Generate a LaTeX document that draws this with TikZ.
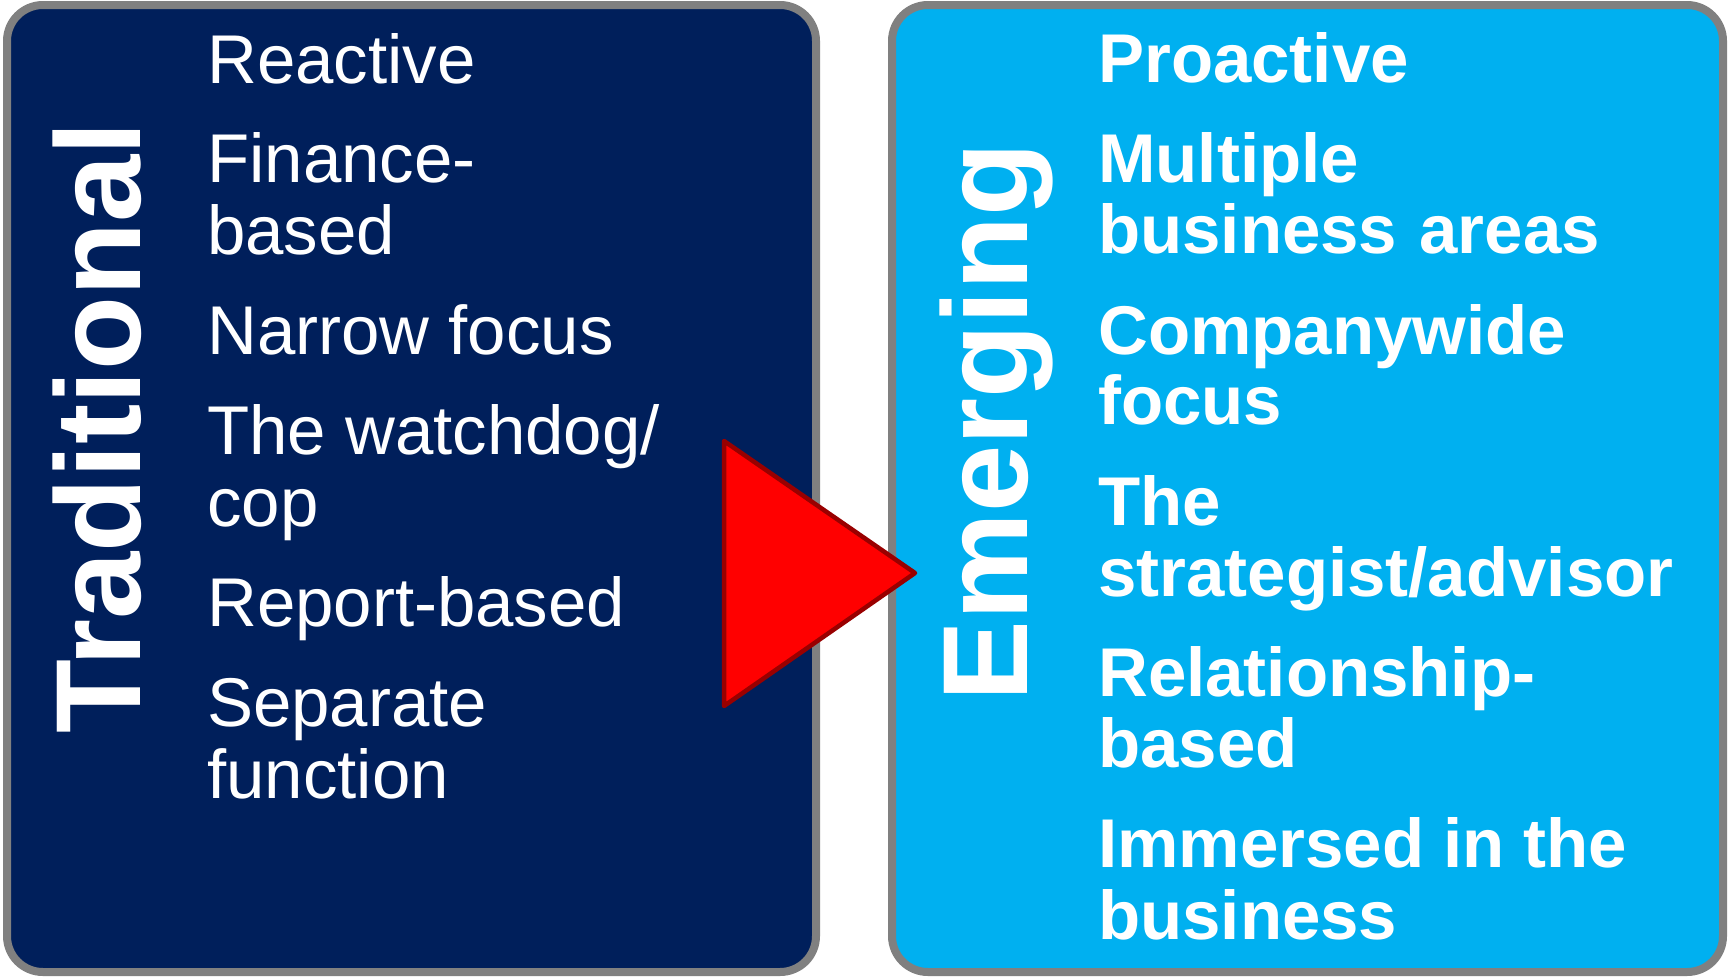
\documentclass[tikz,border=0pt]{standalone}
\usepackage{fontspec}
\setmainfont{Liberation Sans}
\usetikzlibrary{shadows}
\definecolor{navy}{HTML}{001F5B}
\definecolor{sky}{HTML}{00B0F0}
\definecolor{frame}{HTML}{808080}
\definecolor{arrowedge}{HTML}{990000}
\definecolor{arrowfill}{HTML}{FF0000}
\begin{document}
\begin{tikzpicture}[x=1pt,y=-1pt,
  panel/.style={draw=frame, line width=8pt, rounded corners=36pt, inner sep=0pt,
    drop shadow={shadow xshift=3pt, shadow yshift=-3pt, opacity=0.25}},
  item/.style={anchor=base west, inner sep=0pt, text=white, font=\fontsize{69}{72}\selectfont},
  itemb/.style={anchor=base west, inner sep=0pt, text=white, font=\fontsize{69}{72}\selectfont\bfseries},
  paneltitle/.style={inner sep=0pt, text=white, font=\fontsize{121}{121}\selectfont\bfseries, rotate=90, anchor=base},
  arrowtri/.style={fill=arrowfill, draw=arrowedge, line width=4.5pt, line join=round}]
\useasboundingbox (0,0) rectangle (1729,978);
\fill[white] (0,0) rectangle (1729,978);
% panels
\node[panel, fill=navy, minimum width=809pt, minimum height=967pt] (trad) at (411.5,488.5) {};
\node[panel, fill=sky, minimum width=831pt, minimum height=967pt] (emer) at (1307.5,488.5) {};
% titles
\node[paneltitle] (tradtitle) at (140,428) {Traditional};
\node[paneltitle] (emertitle) at (1027,422) {Emerging};
% left items
\node[item] (l1) at (207,83) {Reactive};
\node[item] (l2a) at (207,182) {Finance-};
\node[item] (l2b) at (207,254) {based};
\node[item] (l3) at (207,354) {Narrow focus};
\node[item] (l4a) at (207,454) {The watchdog/};
\node[item] (l4b) at (207,526) {cop};
\node[item] (l5) at (207,626) {Report-based};
\node[item] (l6a) at (207,726) {Separate};
\node[item] (l6b) at (207,798) {function};
% right items
\node[itemb] (r1) at (1098,82) {Proactive};
\node[itemb] (r2a) at (1098,182) {Multiple};
\node[itemb] (r2b) at (1098,253) {business\hspace{3pt} areas};
\node[itemb] (r3a) at (1098,354) {Companywide};
\node[itemb] (r3b) at (1098,424) {focus};
\node[itemb] (r4a) at (1098,525) {The};
\node[itemb] (r4b) at (1098,596) {strategist/advisor};
\node[itemb] (r5a) at (1098,696) {Relationship-};
\node[itemb] (r5b) at (1098,767) {based};
\node[itemb] (r6a) at (1098,867) {Immersed in the};
\node[itemb] (r6b) at (1098,939) {business};
% arrow
\coordinate (ta) at (724,441);
\coordinate (tb) at (915,573);
\coordinate (tc) at (724,706);
\draw[arrowtri] (ta) -- (tb) -- (tc) -- cycle;
\end{tikzpicture}
\end{document}
